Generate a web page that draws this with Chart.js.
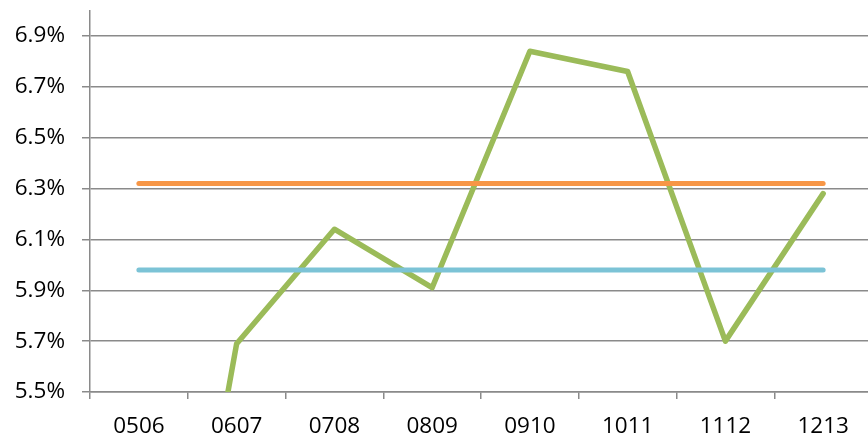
<!DOCTYPE html>
<html>
<head>
<meta charset="utf-8">
<script src="https://cdn.jsdelivr.net/npm/chart.js@4"></script>
<style>
  html, body { margin: 0; padding: 0; background: #fff; overflow: hidden; }
  #wrap { width: 872px; height: 438px; }
</style>
</head>
<body>
<div id="wrap"><canvas id="c" width="872" height="438"></canvas></div>
<script>
// School years
const years = ['0506', '0607', '0708', '0809', '0910', '1011', '1112', '1213'];
// Yearly rate, percent
const rate = [3.55, 5.69, 6.14, 5.91, 6.84, 6.76, 5.70, 6.28];
// Two reference levels, percent
const upperLevel = [6.32, 6.32, 6.32, 6.32, 6.32, 6.32, 6.32, 6.32];
const lowerLevel = [5.98, 5.98, 5.98, 5.98, 5.98, 5.98, 5.98, 5.98];
// Value-axis ticks
const yTicks = [5.5, 5.7, 5.9, 6.1, 6.3, 6.5, 6.7, 6.9];

const gridGray = '#8a8a8a';
const font = { family: 'Open Sans', size: 22.5 };

new Chart(document.getElementById('c'), {
  type: 'line',
  data: {
    labels: years,
    datasets: [
      {
        data: upperLevel,
        borderColor: '#F79646',
        borderWidth: 5,
        borderCapStyle: 'round',
        pointRadius: 0,
        fill: false
      },
      {
        data: lowerLevel,
        borderColor: '#7CC3D6',
        borderWidth: 5,
        borderCapStyle: 'round',
        pointRadius: 0,
        fill: false
      },
      {
        data: rate,
        borderColor: '#9BBB59',
        borderWidth: 5.5,
        borderCapStyle: 'round',
        borderJoinStyle: 'round',
        pointRadius: 0,
        fill: false,
        clip: 0
      }
    ]
  },
  options: {
    responsive: false,
    animation: false,
    devicePixelRatio: 1,
    layout: { padding: { top: 10.5, left: 0, right: 0, bottom: 0 } },
    plugins: { legend: { display: false }, tooltip: { enabled: false } },
    scales: {
      x: {
        offset: true,
        afterFit: (scale) => { scale.height = 46; scale.paddingLeft = 0; scale.paddingRight = 0; },
        grid: {
          offset: true,
          drawOnChartArea: false,
          drawTicks: true,
          tickLength: 7,
          color: gridGray,
          lineWidth: 1.5
        },
        border: { display: true, color: gridGray, width: 1.5 },
        ticks: { color: '#000', font: font, padding: 14, maxRotation: 0, autoSkip: false }
      },
      y: {
        min: 5.5,
        max: 7.0,
        afterBuildTicks: (scale) => { scale.ticks = yTicks.map(v => ({ value: v })); },
        afterFit: (scale) => { scale.width = 90; scale.paddingTop = 0; scale.paddingBottom = 0; },
        grid: {
          drawTicks: true,
          tickLength: 8,
          color: gridGray,
          lineWidth: 1.5
        },
        border: { display: true, color: gridGray, width: 1.5 },
        ticks: {
          color: '#000',
          font: font,
          padding: 17,
          callback: (v) => Number(v).toFixed(1) + '%'
        }
      }
    }
  }
});
</script>
</body>
</html>
